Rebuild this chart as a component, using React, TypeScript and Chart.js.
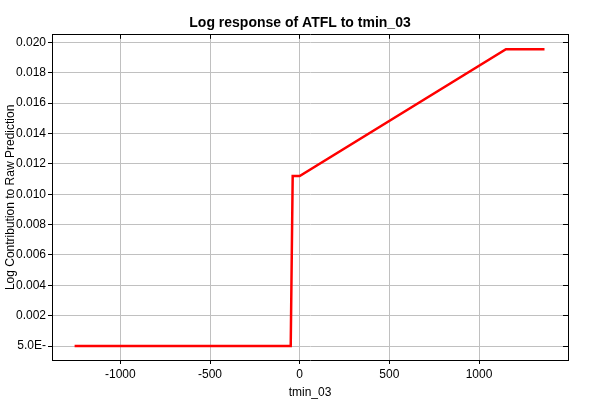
import React, { useEffect, useRef } from "react";
import { Chart, registerables } from "chart.js";

Chart.register(...registerables);

const xValues = [-1255, -50, -39, 0, 1150, 1365];
const yValues = [0, 0, 0.0112, 0.0112, 0.01955, 0.01955];
const xTicks = [-1000, -500, 0, 500, 1000];
const yTicks = [0, 0.002, 0.004, 0.006, 0.008, 0.01, 0.012, 0.014, 0.016, 0.018, 0.02];
const zeroLabel = "5.0E-";

const FONT = "'Liberation Sans', Arial, sans-serif";

export default function App() {
  const ref = useRef<HTMLCanvasElement | null>(null);
  useEffect(() => {
    document.body.style.margin = "0";
    const ctx = ref.current!;
    const chart = new Chart(ctx, {
      type: "line",
      data: {
        datasets: [
          {
            data: xValues.map((x, i) => ({ x, y: yValues[i] })),
            borderColor: "#ff0000",
            borderWidth: 2.5,
            pointRadius: 0,
            tension: 0,
          },
        ],
      },
      options: {
        animation: false,
        responsive: false,
        maintainAspectRatio: false,
        layout: { padding: 0 },
        plugins: {
          legend: { display: false },
          tooltip: { enabled: false },
          title: {
            display: true,
            text: "Log response of ATFL to tmin_03",
            color: "#000",
            font: { family: FONT, size: 14, weight: "bold" },
            padding: { top: 15, bottom: 0 },
          },
        },
        scales: {
          x: {
            type: "linear",
            position: "bottom",
            min: -1381,
            max: 1496,
            afterBuildTicks: (s: any) => {
              s.ticks = xTicks.map((v) => ({ value: v }));
            },
            afterFit: (s: any) => {
              s.height = 40;
            },
            grid: { color: "#c0c0c0", tickColor: "#000", tickLength: 4 },
            border: { display: true, color: "#000" },
            ticks: {
              color: "#000",
              font: { family: FONT, size: 12 },
              padding: 3,
              maxRotation: 0,
              callback: (v: any) => String(v),
            },
            title: {
              display: true,
              text: "tmin_03",
              color: "#000",
              font: { family: FONT, size: 12 },
              padding: 0,
            },
          },
          x2: {
            type: "linear",
            position: "top",
            min: -1381,
            max: 1496,
            afterBuildTicks: (s: any) => {
              s.ticks = xTicks.map((v) => ({ value: v }));
            },
            afterFit: (s: any) => {
              s.height = 3;
            },
            grid: { drawOnChartArea: false, tickColor: "#000", tickLength: -4 },
            border: { display: true, color: "#000" },
            ticks: { display: false },
          },
          y: {
            type: "linear",
            position: "left",
            min: -0.00092,
            max: 0.0205,
            afterBuildTicks: (s: any) => {
              s.ticks = yTicks.map((v) => ({ value: v }));
            },
            afterFit: (s: any) => {
              s.width = 52;
            },
            grid: { color: "#c0c0c0", tickColor: "#000", tickLength: 4 },
            border: { display: true, color: "#000" },
            ticks: {
              color: "#000",
              font: { family: FONT, size: 12 },
              padding: 2,
              callback: (v: any) => (Math.abs(v) < 1e-9 ? zeroLabel : Number(v).toFixed(3)),
            },
            title: {
              display: true,
              text: "Log Contribution to Raw Prediction",
              color: "#000",
              font: { family: FONT, size: 12 },
              padding: { top: 3, bottom: 0 },
            },
          },
          y2: {
            type: "linear",
            position: "right",
            min: -0.00092,
            max: 0.0205,
            afterBuildTicks: (s: any) => {
              s.ticks = yTicks.map((v) => ({ value: v }));
            },
            afterFit: (s: any) => {
              s.width = 32;
            },
            grid: { drawOnChartArea: false, tickColor: "#000", tickLength: -5 },
            border: { display: true, color: "#000" },
            ticks: { display: false },
          },
        },
      },
    });
    return () => chart.destroy();
  }, []);
  return (
    <div style={{ width: 600, height: 400, background: "#fff" }}>
      <canvas ref={ref} width={600} height={400} />
    </div>
  );
}
